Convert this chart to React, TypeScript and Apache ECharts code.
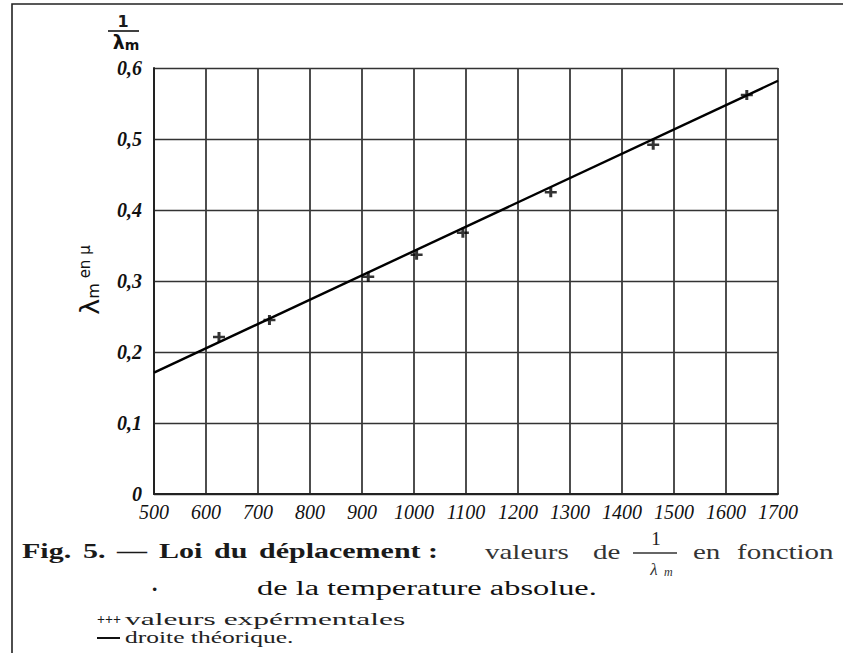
import React, { useEffect, useRef } from 'react';
import * as echarts from 'echarts';

// Experimental points (absolute temperature, 1/λm in μ^-1)
const expTemperature = [625, 722, 912, 1005, 1094, 1263, 1460, 1640];
const expInverseLambda = [0.221, 0.245, 0.306, 0.337, 0.368, 0.425, 0.492, 0.562];

// Theoretical straight line (end points)
const theoryTemperature = [500, 1700];
const theoryInverseLambda = [0.171, 0.582];

// Axis ranges / ticks
const xMin = 500;
const xMax = 1700;
const xStep = 100;
const yMin = 0;
const yMax = 0.6;
const yStep = 0.1;

const SERIF = '"Liberation Serif", "DejaVu Serif", serif';
const SANS = '"DejaVu Sans", "Liberation Sans", sans-serif';

function word(x: number, y: number, text: string, o: any = {}) {
  return {
    type: 'text',
    x,
    y,
    scaleX: o.sx ?? 1,
    silent: true,
    style: {
      text,
      fontFamily: o.ff ?? SERIF,
      fontSize: o.fs ?? 20,
      fontWeight: o.fw ?? 'normal',
      fontStyle: o.fst ?? 'normal',
      fill: o.fill ?? '#1a1a1a',
      align: o.align ?? 'left',
      verticalAlign: 'middle',
    },
  };
}

export default function App() {
  const ref = useRef<HTMLDivElement>(null);

  useEffect(() => {
    document.body.style.margin = '0';
    if (!ref.current) return;
    const chart = echarts.init(ref.current, null, { renderer: 'svg' });

    const expData = expTemperature.map((t, i) => [t, expInverseLambda[i]]);
    const theoryData = theoryTemperature.map((t, i) => [t, theoryInverseLambda[i]]);

    const plus = 'path://M4.5,0H7.5V4.5H12V7.5H7.5V12H4.5V7.5H0V4.5H4.5Z';

    chart.setOption({
      animation: false,
      backgroundColor: '#ffffff',
      grid: { left: 154, right: 65, top: 68, bottom: 159, containLabel: false },
      xAxis: {
        type: 'value',
        min: xMin,
        max: xMax,
        interval: xStep,
        axisLine: { show: true, lineStyle: { color: '#222', width: 2 } },
        axisTick: { show: false },
        splitLine: { show: true, lineStyle: { color: '#3a3a3a', width: 1.8 } },
        axisLabel: {
          margin: 8,
          fontFamily: SERIF,
          fontStyle: 'italic',
          fontSize: 20,
          color: '#111',
          showMinLabel: true,
          showMaxLabel: true,
          formatter: (v: number) => String(v),
        },
      },
      yAxis: {
        type: 'value',
        min: yMin,
        max: yMax,
        interval: yStep,
        axisLine: { show: true, lineStyle: { color: '#222', width: 2 } },
        axisTick: { show: false },
        splitLine: { show: true, lineStyle: { color: '#333', width: 1.4 } },
        axisLabel: {
          margin: 12,
          fontFamily: SERIF,
          fontStyle: 'italic',
          fontWeight: 'bold',
          fontSize: 20,
          color: '#111',
          padding: [0, 0, 8, 0],
          formatter: (v: number) => (v === 0 ? '0' : v.toFixed(1).replace('.', ',')),
        },
      },
      series: [
        {
          name: 'droite théorique',
          type: 'line',
          data: theoryData,
          showSymbol: false,
          lineStyle: { color: '#000', width: 2.4 },
          z: 3,
        },
        {
          name: 'valeurs expérimentales',
          type: 'scatter',
          data: expData,
          symbol: plus,
          symbolSize: [12, 10],
          itemStyle: { color: '#000' },
          z: 4,
        },
      ],
      graphic: [
        // outer frame
        {
          type: 'rect',
          silent: true,
          shape: { x: 12, y: 4, width: 880, height: 700 },
          style: { fill: 'none', stroke: '#222', lineWidth: 1.6 },
        },
        // top axis title 1/λm
        word(123, 21, '1', { ff: SANS, fs: 16, fw: 'bold', align: 'center' }),
        {
          type: 'line',
          silent: true,
          shape: { x1: 108, y1: 31, x2: 139, y2: 31 },
          style: { stroke: '#111', lineWidth: 1.6 },
        },
        {
          type: 'text',
          x: 126,
          y: 42,
          silent: true,
          style: {
            text: '{l|λ}{m|m}',
            align: 'center',
            verticalAlign: 'middle',
            fill: '#111',
            rich: {
              l: { fontFamily: SANS, fontSize: 19, fontWeight: 'bold', fill: '#111' },
              m: { fontFamily: SANS, fontSize: 14, fontWeight: 'bold', fill: '#111', verticalAlign: 'bottom', padding: [6, 0, 0, 0] },
            },
          },
        },
        // rotated y title λm en μ
        {
          type: 'text',
          x: 89,
          y: 280,
          rotation: Math.PI / 2,
          silent: true,
          style: {
            text: '{l|λ}{m|m}{e| en μ}',
            align: 'center',
            verticalAlign: 'middle',
            fill: '#111',
            rich: {
              l: { fontFamily: SANS, fontSize: 27, fill: '#111' },
              m: { fontFamily: SANS, fontSize: 16, fill: '#111', padding: [9, 0, 0, 0] },
              e: { fontFamily: SANS, fontSize: 15, fill: '#111', padding: [0, 0, 9, 0] },
            },
          },
        },
        // caption line 1
        word(22, 551, 'Fig.', { fw: 'bold', sx: 1.5 }),
        word(83, 551, '5.', { fw: 'bold', sx: 1.5 }),
        word(117, 551, '—', { fw: 'bold', sx: 1.5 }),
        word(159, 551, 'Loi', { fw: 'bold', sx: 1.5 }),
        word(214, 551, 'du', { fw: 'bold', sx: 1.5 }),
        word(259, 551, 'déplacement :', { fw: 'bold', sx: 1.5 }),
        word(485, 552, 'valeurs', { sx: 1.45, fill: '#333' }),
        word(593, 552, 'de', { sx: 1.45, fill: '#333' }),
        word(656, 538, '1', { fs: 19, align: 'center', fill: '#222' }),
        {
          type: 'line',
          silent: true,
          shape: { x1: 633, y1: 553, x2: 677, y2: 553 },
          style: { stroke: '#333', lineWidth: 1.3 },
        },
        word(656, 569, 'λ ', { fs: 17, fst: 'italic', align: 'center', fill: '#333' }),
        word(664, 572, 'm', { fs: 12, fst: 'italic', fill: '#333' }),
        word(693, 552, 'en', { sx: 1.45, fill: '#333' }),
        word(737, 552, 'fonction', { sx: 1.45, fill: '#333' }),
        // caption line 2
        word(151, 588, '·', { fs: 22, fw: 'bold' }),
        word(257, 588, 'de la temperature absolue.', { sx: 1.62, fill: '#111' }),
        // legend
        word(97, 619, '+++', { fs: 14, fw: 'bold' }),
        word(125, 619, 'valeurs expérmentales', { fs: 17, sx: 1.85, fill: '#222' }),
        {
          type: 'line',
          silent: true,
          shape: { x1: 97, y1: 638, x2: 120, y2: 638 },
          style: { stroke: '#111', lineWidth: 2 },
        },
        word(125, 638, 'droite théorique.', { fs: 17, sx: 1.5, fill: '#222' }),
      ],
    });

    return () => chart.dispose();
  }, []);

  return <div ref={ref} style={{ width: 843, height: 653 }} />;
}
